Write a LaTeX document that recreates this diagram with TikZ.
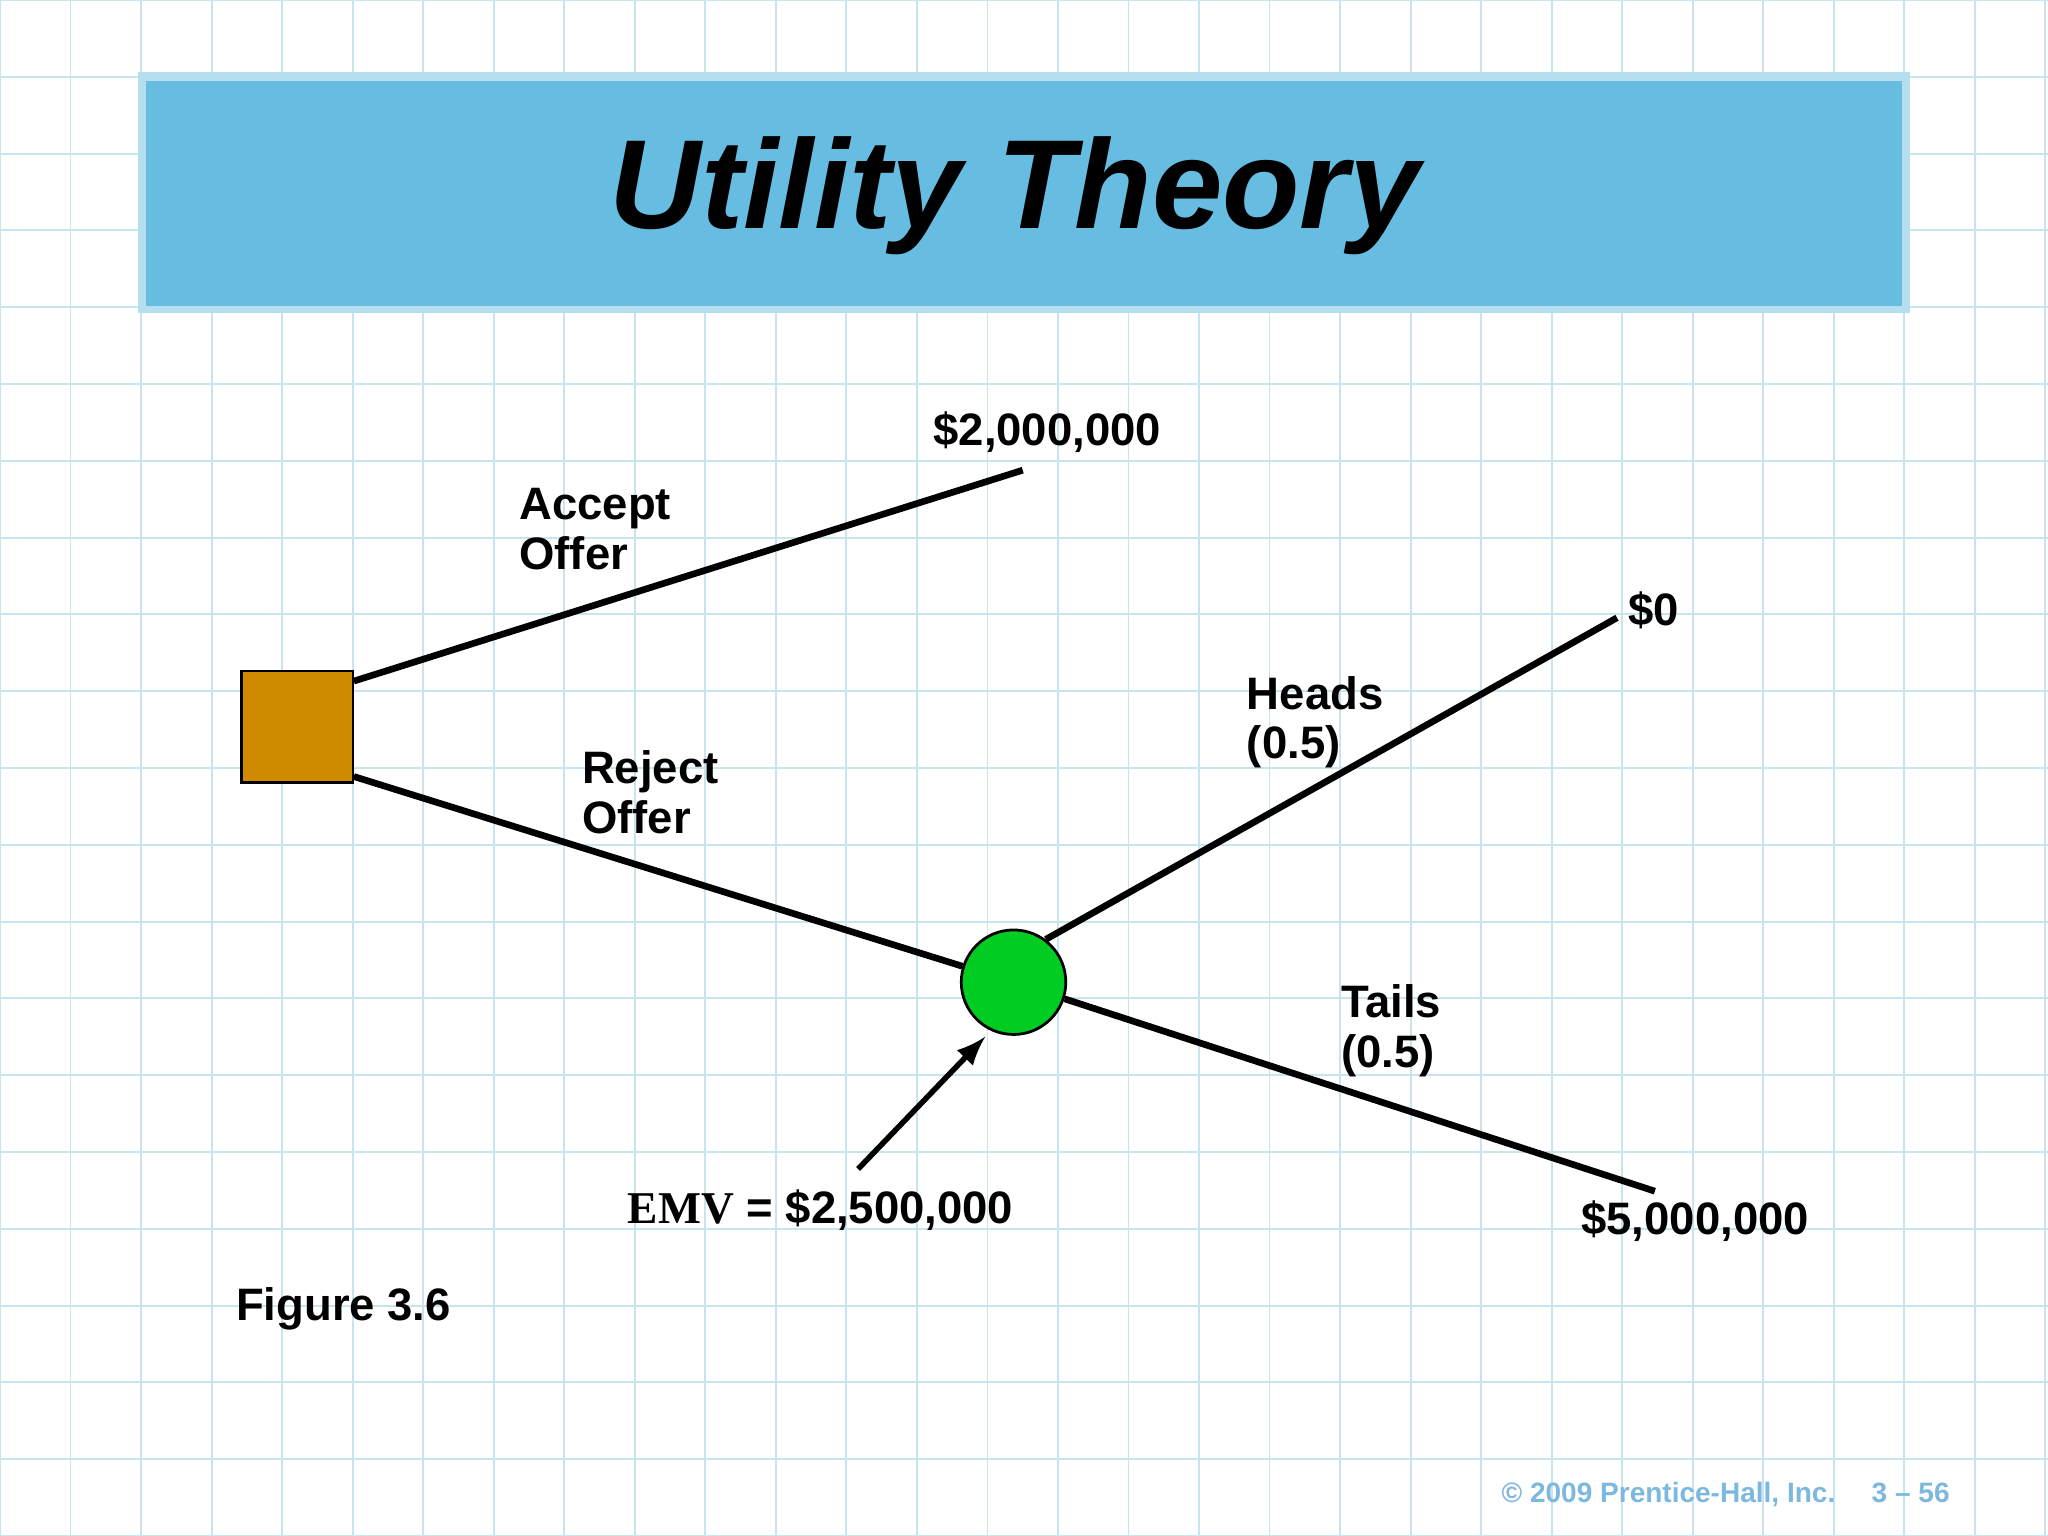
\documentclass[tikz,border=0pt]{standalone}
\usepackage{fontspec}
\setmainfont{Liberation Sans}
\newfontfamily\timesf{Liberation Serif}
\definecolor{gridc}{HTML}{C8E4EF}
\definecolor{titlef}{HTML}{66BDE1}
\definecolor{titleb}{HTML}{B5DEEE}
\definecolor{sqf}{HTML}{D08A00}
\definecolor{circf}{HTML}{00CC22}
\definecolor{footc}{HTML}{7DB8DE}
\begin{document}
\begin{tikzpicture}[x=0.01cm,y=-0.01cm,
  lbl/.style={font=\fontsize{9.9}{10.8}\selectfont\bfseries,anchor=base west,inner sep=0pt,align=left},
  branch/.style={line width=1.45pt},
  ]
\fill[white] (0,0) rectangle (1568,1176);
\useasboundingbox (0,0) rectangle (1568,1176);
\foreach \i in {0,...,29} {\draw[gridc,line width=0.4pt] (0+54*\i,0) -- (0+54*\i,1176);}
\foreach \j in {0,...,20} {\draw[gridc,line width=0.4pt] (0,0+58.8*\j) -- (1568,0+58.8*\j);}
\fill[titleb] (106,55) rectangle (1462,240);
\fill[titlef] (112,62) rectangle (1456,234);
\node[font=\fontsize{27.6}{32}\selectfont\bfseries\itshape] (tt) at (777,150) {Utility Theory};
\node[draw=black,line width=0.5pt,fill=sqf,inner sep=0pt,minimum width=0.85cm,minimum height=0.85cm] (sq) at (227.5,556.5) {};
\node[draw=black,line width=0.6pt,fill=circf,circle,minimum size=0.8cm,inner sep=0pt] (ch) at (776,752) {};
\coordinate (a1) at (783,360);
\coordinate (h1) at (1238,473);
\coordinate (t1) at (1267,912);
\coordinate (ar) at (657,895);
\draw[branch] ([yshift=0.35cm]sq.east) -- (a1);
\draw[branch] ([yshift=-0.38cm]sq.east) -- (ch);
\draw[branch] (ch.53) -- (h1);
\draw[branch] (ch) -- (t1);
\draw[line width=1.2pt,-latex] (ar) -- ([shift={(2,8)}]ch.235);
\node[lbl] (l1) at (714,341) {\$2,000,000};
\node[lbl] (l2) at (397,436) {Accept\\Offer};
\node[lbl] (l3) at (445,638) {Reject\\Offer};
\node[lbl] (l4) at (1246,479) {\$0};
\node[lbl] (l5) at (954,581) {Heads\\(0.5)};
\node[lbl] (l6) at (1026,817) {Tails\\(0.5)};
\node[lbl] (l7) at (1210,945) {\$5,000,000};
\node[lbl] (l8) at (480,937) {{\timesf EMV} = \$2,500,000};
\node[lbl] (l9) at (180,1011) {Figure 3.6};
\node[lbl,font=\fontsize{6.1}{7}\selectfont\bfseries,text=footc] (ft) at (1149,1150) {© 2009 Prentice-Hall, Inc.\hspace{1.3em}3 – 56};
\end{tikzpicture}
\end{document}
